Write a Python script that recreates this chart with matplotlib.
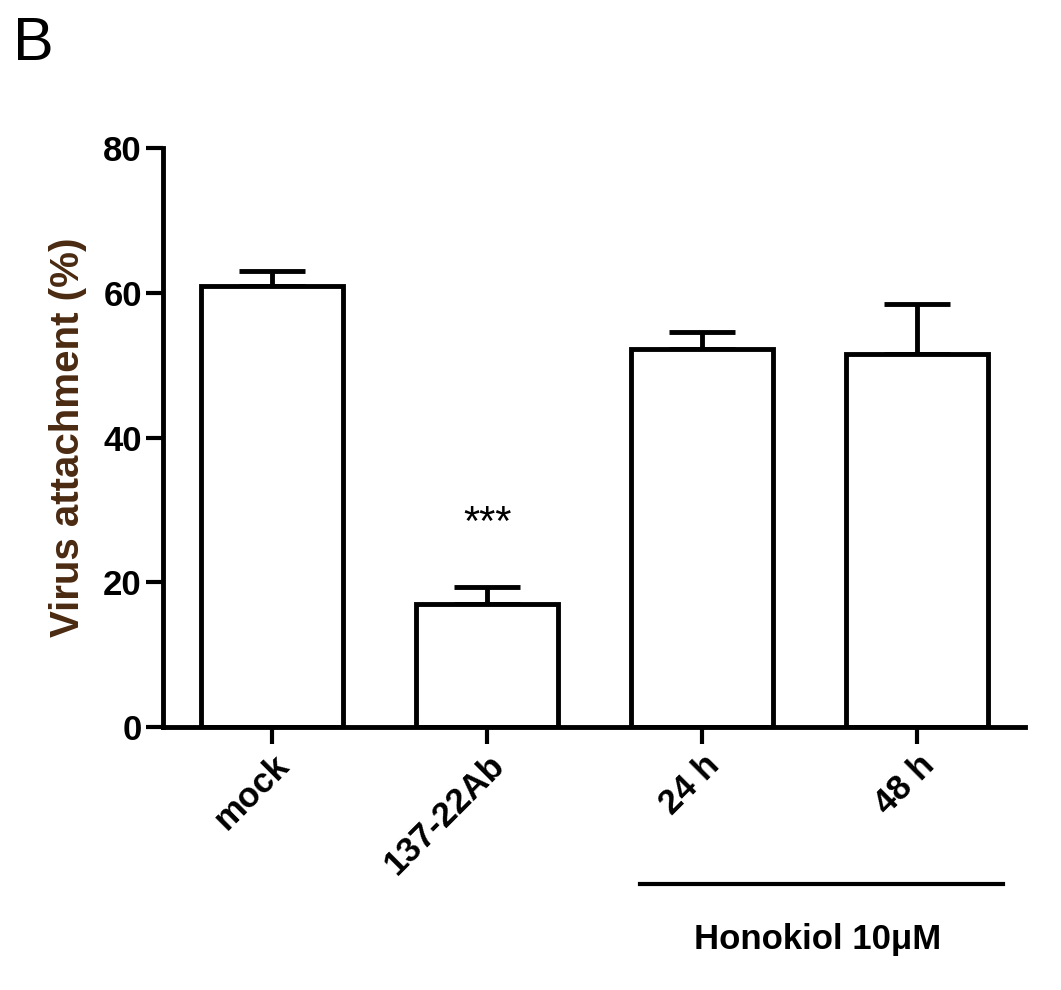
import matplotlib
matplotlib.use("Agg")
import matplotlib.pyplot as plt

categories = ["mock", "137-22Ab", "24 h", "48 h"]
values = [61.0, 17.0, 52.3, 51.5]
errors = [2.0, 2.3, 2.3, 7.0]
yticks = [0, 20, 40, 60, 80]

plt.rcParams['font.family'] = ['Liberation Sans', 'DejaVu Sans']
fig = plt.figure(figsize=(10.61, 9.9), dpi=100)
ax = fig.add_axes([0.154, 0.266, 0.812, 0.584])
x = list(range(len(categories)))
ax.bar(x, values, width=0.66, color='white', edgecolor='black', linewidth=3.5, zorder=2)
ax.errorbar(x, values, yerr=[[0]*4, errors], fmt='none', ecolor='black',
            elinewidth=3.5, capsize=24, capthick=3.5, zorder=1)
ax.set_xlim(-0.507, 3.50)
ax.set_ylim(0, 80)
ax.set_yticks(yticks)
ax.set_yticklabels([str(t) for t in yticks], fontsize=25, fontweight='bold')
ax.set_xticks(x)
ax.set_xticklabels(categories, rotation=45, ha='right', rotation_mode='anchor',
                   fontsize=25, fontweight='bold')
ax.tick_params(width=3, length=12)
for s in ['top', 'right']:
    ax.spines[s].set_visible(False)
for s in ['left', 'bottom']:
    ax.spines[s].set_linewidth(3.5)
ax.set_ylabel("Virus attachment (%)", fontsize=29, fontweight='bold', color='#4a2a10', labelpad=12)
ax.text(1, 28, "***", ha='center', va='center', fontsize=30)
fig.text(0.012, 0.955, "B", fontsize=44, va='center')
fig.lines.append(plt.Line2D([640/1061, 1003/1061], [1-884/990, 1-884/990],
                            transform=fig.transFigure, color='black', lw=3))
fig.text(818/1061, 1-940/990, "Honokiol 10μM", ha='center', va='center',
         fontsize=25, fontweight='bold')
fig.savefig("out.png", dpi=100)
